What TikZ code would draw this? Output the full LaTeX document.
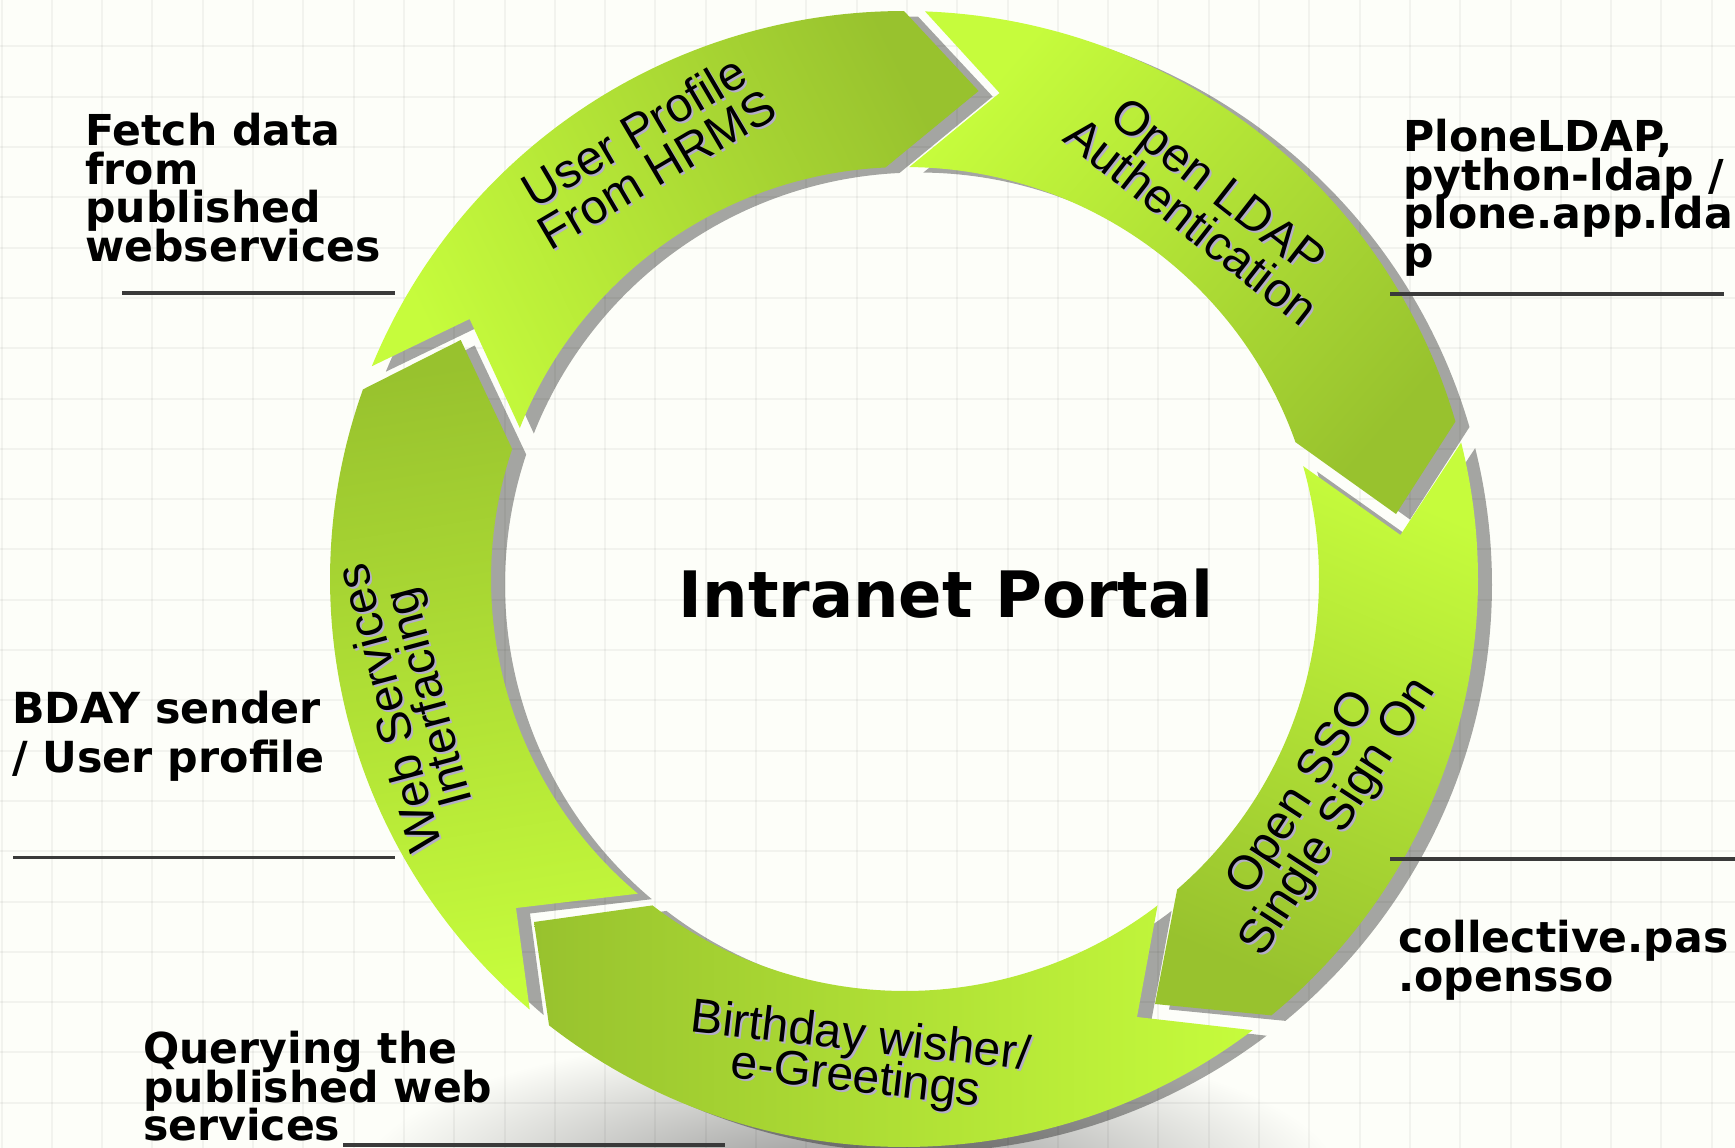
\documentclass[tikz,border=0pt]{standalone}
\usepackage{fontspec}
\setmainfont{Liberation Sans}
\newfontfamily\labelfont{DejaVu Sans}
\AtBeginDocument{\lineskiplimit=-100pt}
\definecolor{bgc}{HTML}{FDFEF9}
\definecolor{brightc}{HTML}{C6FC3C}
\definecolor{darkc}{HTML}{98C22E}
\definecolor{ruleC}{HTML}{3A3A3A}
\definecolor{tshadow}{HTML}{B4AEC8}
\definecolor{floorin}{HTML}{909090}
\pgfdeclareradialshading{floorshade}{\pgfpoint{0bp}{0bp}}{color(0bp)=(floorin); color(25bp)=(bgc); color(50bp)=(bgc)}
\newcommand\ringarrow[7]{%
  \path[#1] plot[variable=\t,domain=#2:#3,samples=70] ({904+574*cos(\t)},{579+568*sin(\t)})
  -- (#4)
  -- plot[variable=\t,domain=#5:#6,samples=70] ({905+414*cos(\t)},{579+412*sin(\t)})
  -- (#7) -- cycle;}
\tikzset{
  arrowback/.style={fill=black,fill opacity=.35,shift={(14,5.5)}},
  arrowfront/.style={shade,top color=brightc,bottom color=darkc,shading angle=#1},
  sidelabel/.style={font=\labelfont\bfseries\fontsize{42.6}{38.7}\selectfont,align=left,anchor=north west,inner sep=0pt,text=black},
  ringtext/.style={font=\fontsize{48}{44}\selectfont,align=center,inner sep=0pt,text=black},
  ringshade/.style={font=\fontsize{48}{44}\selectfont,align=center,inner sep=0pt,text=tshadow},
  gridline/.style={draw=black,draw opacity=.045,line width=2pt},
  rulestroke/.style={draw=ruleC,line width=3.5pt}
}
\begin{document}
\begin{tikzpicture}[x=1pt,y=-1pt]
\useasboundingbox (0,0) rectangle (1735,1148);
\fill[bgc] (0,0) rectangle (1735,1148);
\begin{scope}
\clip (0,0) rectangle (1735,1148);
\shade[shading=floorshade] (850,1180) ellipse [x radius=490,y radius=150];
\foreach \k in {0,...,34} \draw[gridline] ({1.5+50.3*\k},0) -- ({1.5+50.3*\k},1148);
\foreach \k in {1,...,23} \draw[gridline] (0,{-3.9+50.3*\k}) -- (1735,{-3.9+50.3*\k});
\end{scope}
% shadows
\ringarrow{arrowback}{-87.9}{-16.1}{1396,514}{-19.4}{-89.4}{999.6,93}
\ringarrow{arrowback}{-13.9}{50.2}{1155,1004}{48.9}{-15.9}{1400.4,535}
\ringarrow{arrowback}{52.6}{128.2}{534,922}{127.6}{52.4}{1137,1017}
\ringarrow{arrowback}{130.7}{199.5}{460.7,340}{198.4}{130.2}{516,908}
\ringarrow{arrowback}{202}{270}{978.6,91}{267.3}{201.5}{469.6,319}
% arrows
\ringarrow{arrowfront=49}{-87.9}{-16.1}{1396,514}{-19.4}{-89.4}{999.6,93}
\ringarrow{arrowfront=-23}{-13.9}{50.2}{1155,1004}{48.9}{-15.9}{1400.4,535}
\ringarrow{arrowfront=-90}{52.6}{128.2}{534,922}{127.6}{52.4}{1137,1017}
\ringarrow{arrowfront=-171}{130.7}{199.5}{460.7,340}{198.4}{130.2}{516,908}
\ringarrow{arrowfront=116}{202}{270}{978.6,91}{267.3}{201.5}{469.6,319}
% ring text
\node[ringshade,rotate=-38] (ldaps) at (1207,206) {Open LDAP\\Authentication};
\node[ringtext,rotate=-38] (ldap) at (1205,204) {Open LDAP\\Authentication};
\node[ringshade,rotate=30.5] (hrmss) at (647,152) {User Profile\\From HRMS};
\node[ringtext,rotate=30.5] (hrms) at (645,150) {User Profile\\From HRMS};
\node[ringshade,rotate=105,font=\fontsize{48}{40}\selectfont] (webs) at (414,704) {Web Services\\Interfacing};
\node[ringtext,rotate=105,font=\fontsize{48}{40}\selectfont] (web) at (412,702) {Web Services\\Interfacing};
\node[ringshade,rotate=57] (ssos) at (1323,808) {Open SSO\\Single Sign On};
\node[ringtext,rotate=57] (sso) at (1321,806) {Open SSO\\Single Sign On};
\node[ringshade,rotate=-6.5,font=\fontsize{48}{41}\selectfont] (bdays) at (860,1061) {Birthday wisher/\\e-Greetings};
\node[ringtext,rotate=-6.5,font=\fontsize{48}{41}\selectfont] (bday) at (858,1059) {Birthday wisher/\\e-Greetings};
% labels
\node[font=\labelfont\bfseries\fontsize{64}{70}\selectfont,inner sep=0pt] (title) at (946,594) {Intranet Portal};
\node[sidelabel] (fetch) at (85,113) {Fetch data\\from\\published\\webservices};
\node[sidelabel] (plone) at (1403,119) {PloneLDAP,\\python-ldap /\\plone.app.lda\\p};
\node[sidelabel,font=\labelfont\bfseries\fontsize{42.8}{48.7}\selectfont] (bdaysend) at (12,691) {BDAY sender\\/ User profile};
\node[sidelabel] (coll) at (1398,920) {collective.pas\\.opensso};
\node[sidelabel] (query) at (143,1031) {Querying the\\published web\\services};
% rules
\coordinate (r1a) at (122,293); \coordinate (r1b) at (395,293);
\coordinate (r2a) at (1390,294); \coordinate (r2b) at (1724,294);
\coordinate (r3a) at (13,857.5); \coordinate (r3b) at (395,857.5);
\coordinate (r4a) at (1390,859); \coordinate (r4b) at (1735,859);
\coordinate (r5a) at (343,1145); \coordinate (r5b) at (725,1145);
\draw[rulestroke] (r1a) -- (r1b);
\draw[rulestroke] (r2a) -- (r2b);
\draw[rulestroke] (r3a) -- (r3b);
\draw[rulestroke] (r4a) -- (r4b);
\draw[rulestroke] (r5a) -- (r5b);
\end{tikzpicture}
\end{document}
